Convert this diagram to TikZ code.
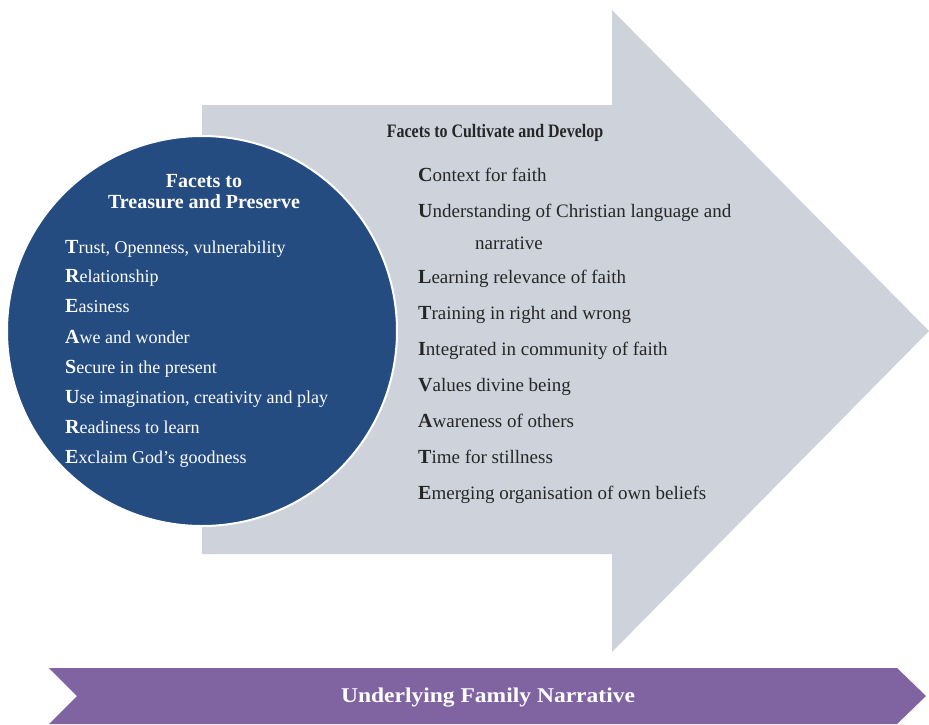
\documentclass[tikz,border=0pt]{standalone}
\usepackage{fontspec}
\setmainfont{Liberation Serif}
\usepackage{xcolor}
\usepackage{tikz}
\usetikzlibrary{positioning, shapes, calc}

\definecolor{arrowgrey}{HTML}{CDD2DB}
\definecolor{facetblue}{HTML}{244C80}
\definecolor{narrpurple}{HTML}{8063A1}
\definecolor{facetink}{HTML}{262626}

% bold, slightly larger first letter of each facet
\newcommand{\firstletter}[1]{{\fontsize{20}{20}\selectfont\bfseries #1}}

\tikzset{
  facet/.style={anchor=base west, inner sep=0pt, font=\fontsize{18}{18}\selectfont},
  heading/.style={align=center, inner sep=0pt, font=\fontsize{20}{21}\selectfont\bfseries}
}

\begin{document}
\begin{tikzpicture}[x=1pt, y=-1pt]
          \useasboundingbox (0,0) rectangle (929,724);

          % big grey arrow
          \fill[arrowgrey] (202,105) -- (612,105) -- (612,10) -- (929,331)
            -- (612,652) -- (612,554) -- (202,554) -- cycle;

          % blue circle
          \node[circle, fill=facetblue, draw=white, line width=2pt, minimum size=390pt] (treasure) at (202,331) {};

          \node[heading, text=white] (treasurehead) at (204,192) {Facets to\\Treasure and Preserve};

          \foreach \first/\rest/\y in {T/{rust, Openness, vulnerability}/253, R/elationship/282,
              E/asiness/312, A/{we and wonder}/343, S/{ecure in the present}/373,
              U/{se imagination, creativity and play}/403, R/{eadiness to learn}/433,
              E/{xclaim God’s goodness}/463}
            \node[facet, text=white] (t\y) at (65,\y) {\firstletter{\first}\rest};

          \node[heading, text=facetink, font=\fontsize{19}{20}\selectfont\bfseries, xscale=0.84] (cultivatehead) at (495,133) {Facets to Cultivate and Develop};

          \foreach \first/\rest/\y in {C/{ontext for faith}/181, U/{nderstanding of Christian language and}/217,
              L/{earning relevance of faith}/283, T/{raining in right and wrong}/319,
              I/{ntegrated in community of faith}/355, V/{alues divine being}/391,
              A/{wareness of others}/427, T/{ime for stillness}/463,
              E/{merging organisation of own beliefs}/499}
            \node[facet, text=facetink, font=\fontsize{19}{19}\selectfont] (c\y) at (418,\y) {\firstletter{\first}\rest};
          \node[facet, text=facetink, font=\fontsize{19}{19}\selectfont] (cnarr) at (475,249) {narrative};

          % purple banner along the bottom
          \fill[narrpurple] (49,668) -- (897,668) -- (926,696) -- (897,724)
            -- (49,724) -- (77,696) -- cycle;
          \node[text=white, font=\fontsize{21}{22}\selectfont\bfseries, xscale=1.12] (narrative) at (488,698) {Underlying Family Narrative};
        \end{tikzpicture}
\end{document}
